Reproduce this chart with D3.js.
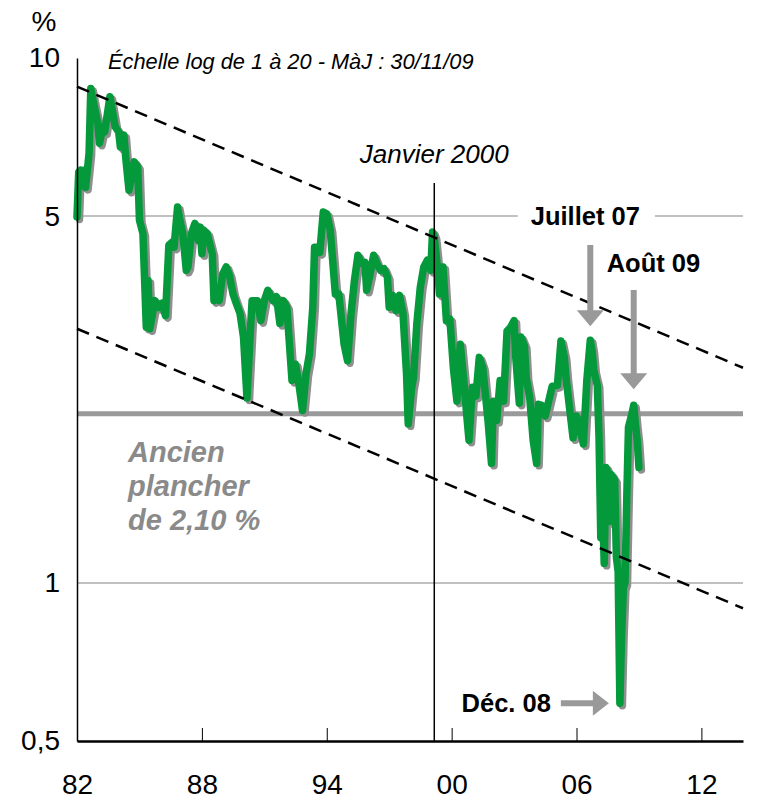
<!DOCTYPE html>
<html>
<head>
<meta charset="utf-8">
<script src="https://cdn.jsdelivr.net/npm/d3@7"></script>
<style>
  body { margin: 0; background: #fff; }
  svg { display: block; }
  text { font-family: Arial, "Liberation Sans", sans-serif; }
</style>
</head>
<body>
<svg id="chart" width="763" height="802"></svg>
<script>
// Monthly rate (%), Nov 1982 – Nov 2009
const months = [
  "1982-11","1982-12","1983-01","1983-02","1983-03","1983-04","1983-06","1983-07","1983-09","1983-11",
  "1983-12","1984-02","1984-03","1984-06","1984-07","1984-09","1984-11","1984-12","1985-01","1985-02",
  "1985-03","1985-05","1985-08","1985-10","1985-11","1986-01","1986-03","1986-04","1986-05","1986-08",
  "1986-10","1986-12","1987-02","1987-04","1987-06","1987-07","1987-09","1987-10","1987-12","1988-02",
  "1988-03","1988-05","1988-07","1988-09","1988-10","1988-11","1988-12","1989-02","1989-05","1989-06",
  "1989-08","1989-09","1989-11","1990-01","1990-03","1990-05","1990-07","1990-09","1990-11","1991-01",
  "1991-03","1991-04","1991-07","1991-09","1991-11","1992-01","1992-04","1992-06","1992-08","1992-10",
  "1992-12","1993-03","1993-05","1993-07","1993-09","1993-11","1994-01","1994-03","1994-04","1994-06",
  "1994-07","1994-09","1994-11","1995-01","1995-04","1995-06","1995-08","1995-09","1995-11","1996-01",
  "1996-03","1996-05","1996-07","1996-09","1996-10","1996-12","1997-02","1997-04","1997-06","1997-08",
  "1997-10","1997-11","1998-01","1998-03","1998-05","1998-07","1998-09","1998-10","1998-12","1999-01",
  "1999-03","1999-05","1999-07","1999-09","1999-11","1999-12","2000-01","2000-03","2000-04","2000-06",
  "2000-08","2000-10","2000-12","2001-02","2001-04","2001-06","2001-08","2001-09","2001-11","2002-01",
  "2002-03","2002-05","2002-08","2002-10","2002-11","2003-01","2003-03","2003-05","2003-07","2003-09",
  "2003-11","2003-12","2004-02","2004-03","2004-05","2004-06","2004-08","2004-10","2004-12","2005-01",
  "2005-03","2005-05","2005-07","2005-09","2005-12","2006-02","2006-04","2006-05","2006-07","2006-09",
  "2006-11","2006-12","2007-03","2007-05","2007-07","2007-08","2007-09","2007-11","2007-12","2008-01",
  "2008-02","2008-03","2008-04","2008-05","2008-06","2008-07","2008-09","2008-10","2008-11","2008-12",
  "2009-01","2009-02","2009-03","2009-04","2009-05","2009-07","2009-08","2009-09","2009-10","2009-11"
];
const rates = [
  4.98, 6.06, 6.11, 5.72, 6.11, 5.67, 6.59, 8.75, 8.08, 7.51,
  6.88, 7.40, 7.23, 8.44, 8.08, 7.40, 7.23, 6.77, 6.97, 7.13,
  6.53, 5.60, 6.34, 6.20, 4.91, 4.63, 3.07, 3.77, 3.05, 3.45,
  3.35, 3.41, 3.23, 4.40, 4.46, 4.36, 5.20, 4.98, 4.63, 3.94,
  4.00, 4.63, 4.84, 4.49, 4.76, 4.24, 4.70, 4.63, 4.24, 3.45,
  3.66, 3.45, 3.88, 4.00, 3.85, 3.55, 3.40, 3.26, 2.94, 2.25,
  3.02, 3.45, 3.45, 3.16, 3.45, 3.61, 3.45, 3.51, 3.12, 3.45,
  3.35, 2.43, 2.61, 2.39, 2.13, 2.50, 2.73, 3.35, 4.36, 4.36,
  4.26, 5.09, 5.05, 4.70, 3.55, 3.55, 3.07, 2.85, 2.65, 3.26,
  3.77, 4.21, 4.06, 4.08, 3.61, 3.88, 4.21, 4.06, 3.94, 3.97,
  3.82, 3.35, 3.53, 3.30, 3.53, 3.26, 2.50, 2.01, 2.36, 2.46,
  3.12, 3.66, 4.00, 4.12, 3.94, 4.66, 4.56, 3.94, 3.55, 4.00,
  3.16, 3.18, 2.57, 2.22, 2.85, 2.43, 2.04, 1.87, 2.36, 2.27,
  2.69, 2.57, 2.04, 1.69, 2.22, 2.04, 2.43, 2.22, 3.02, 3.07,
  3.16, 2.69, 2.20, 2.94, 2.83, 2.46, 2.26, 1.87, 1.69, 2.19,
  2.18, 2.08, 2.22, 2.37, 2.38, 2.89, 2.69, 2.46, 2.16, 1.89,
  2.08, 2.04, 1.84, 2.43, 2.90, 2.77, 2.54, 2.38, 1.90, 1.22,
  1.43, 1.09, 1.66, 1.63, 1.31, 1.61, 1.57, 1.12, 1.05, 0.59,
  0.80, 0.98, 1.00, 1.45, 1.98, 2.10, 2.18, 2.00, 1.87, 1.66
];

// Axes
const xDomain = ["1982-11", "2014-11"];
const xTickMonths = ["1982-11", "1988-11", "1994-11", "2000-11", "2006-11", "2012-11"];
const xTickLabels = ["82", "88", "94", "00", "06", "12"];
const yDomain = [0.5, 10];
const yTickValues = [0.5, 1, 5, 10];
const yTickLabels = ["0,5", "1", "5", "10"];
const gridValues = [1, 5];

// Reference levels and trend channel (log-linear)
const floorRate = 2.10;
const channelMonths = ["1982-11", "2014-11"];
const upperChannel = [8.82, 2.57];
const lowerChannel = [3.05, 0.895];
const markerMonth = "2000-01";

// Annotated months
const julyPeak = "2007-07";
const decLow = "2008-12";
const augPeak = "2009-08";

const parse = d3.timeParse("%Y-%m");
const svg = d3.select("#chart");
const plotLeft = 77, plotRight = 743, plotTop = 58, plotBottom = 741;

const x = d3.scaleTime().domain(xDomain.map(parse)).range([plotLeft, plotRight]);
const y = d3.scaleLog().domain(yDomain).range([plotBottom, plotTop]);

const series = months.map((m, i) => ({ date: parse(m), value: rates[i] }));
const valueAt = m => series.find(d => +d.date === +parse(m)).value;

// Horizontal gridlines
const grid = svg.append("g");
gridValues.forEach(v => {
  grid.append("line")
    .attr("x1", plotLeft).attr("x2", plotRight)
    .attr("y1", y(v)).attr("y2", y(v))
    .attr("stroke", "#ababab").attr("stroke-width", 1.5);
});

// Former floor at 2.10 %
svg.append("line")
  .attr("x1", plotLeft).attr("x2", plotRight)
  .attr("y1", y(floorRate)).attr("y2", y(floorRate))
  .attr("stroke", "#9a9a9a").attr("stroke-width", 5);

// Rate line with drop shadow
const line = d3.line().x(d => x(d.date)).y(d => y(d.value)).curve(d3.curveLinear);
svg.append("path").datum(series)
  .attr("d", line)
  .attr("transform", "translate(2.5,2.5)")
  .attr("fill", "none").attr("stroke", "#8f8f8f")
  .attr("stroke-width", 7.5).attr("stroke-linejoin", "round").attr("stroke-linecap", "round");
svg.append("path").datum(series)
  .attr("d", line)
  .attr("fill", "none").attr("stroke", "#04993a")
  .attr("stroke-width", 7.5).attr("stroke-linejoin", "round").attr("stroke-linecap", "round");

// Trend channel (dashed)
[upperChannel, lowerChannel].forEach(vals => {
  const pts = channelMonths.map((m, i) => ({ date: parse(m), value: vals[i] }));
  svg.append("path").datum(pts)
    .attr("d", line)
    .attr("fill", "none").attr("stroke", "#000")
    .attr("stroke-width", 2.5).attr("stroke-dasharray", "13,8");
});

// January 2000 marker
svg.append("line")
  .attr("x1", x(parse(markerMonth))).attr("x2", x(parse(markerMonth)))
  .attr("y1", 183).attr("y2", plotBottom)
  .attr("stroke", "#000").attr("stroke-width", 1.5);
svg.append("text")
  .attr("x", x(parse(markerMonth))).attr("y", 163)
  .attr("text-anchor", "middle")
  .attr("font-size", 26).attr("font-style", "italic")
  .text("Janvier 2000");

// Axes
const xAxis = d3.axisBottom(x)
  .tickValues(xTickMonths.map(parse))
  .tickFormat((d, i) => xTickLabels[i])
  .tickSizeInner(-13).tickSizeOuter(0).tickPadding(33);
const gx = svg.append("g").attr("transform", `translate(0,${plotBottom})`).call(xAxis);
gx.select(".domain").attr("stroke-width", 2.5);
gx.selectAll(".tick line").attr("stroke-width", 1);
gx.selectAll(".tick text").attr("font-size", 28).attr("fill", "#000");
gx.attr("font-family", null).attr("font-size", null);

const yAxis = d3.axisLeft(y)
  .tickValues(yTickValues)
  .tickFormat((d, i) => yTickLabels[i])
  .tickSize(0).tickPadding(17);
const gy = svg.append("g").attr("transform", `translate(${plotLeft},0)`).call(yAxis);
gy.select(".domain").attr("stroke-width", 1.5);
gy.selectAll(".tick text").attr("font-size", 28).attr("fill", "#000");
gy.attr("font-family", null).attr("font-size", null);

svg.append("text").attr("x", 44).attr("y", 31)
  .attr("text-anchor", "middle").attr("font-size", 28).text("%");

svg.append("text").attr("x", 108).attr("y", 69)
  .attr("font-size", 21.8).attr("font-style", "italic")
  .text("Échelle log de 1 à 20 - MàJ : 30/11/09");

// Former floor caption
const floorText = svg.append("text")
  .attr("x", 128).attr("y", 462)
  .attr("font-size", 29).attr("font-weight", "bold").attr("font-style", "italic")
  .attr("fill", "#8a8a8a");
["Ancien", "plancher", "de 2,10 %"].forEach((s, i) => {
  floorText.append("tspan").attr("x", 128).attr("dy", i === 0 ? 0 : 34).text(s);
});

// Arrows
const grey = "#999";
function downArrow(cx, yTop, yTip) {
  const hw = 13.5, hh = 16, sw = 3;
  svg.append("path")
    .attr("d", `M${cx - sw},${yTop}V${yTip - hh}H${cx - hw}L${cx},${yTip}L${cx + hw},${yTip - hh}H${cx + sw}V${yTop}Z`)
    .attr("fill", grey);
}
function rightArrow(xTail, xTip, cy) {
  const hw = 12.5, hl = 16, sw = 3;
  svg.append("path")
    .attr("d", `M${xTail},${cy - sw}H${xTip - hl}V${cy - hw}L${xTip},${cy}L${xTip - hl},${cy + hw}V${cy + sw}H${xTail}Z`)
    .attr("fill", grey);
}

// Juillet 07
const jx = x(parse(julyPeak));
const jLabel = svg.append("text")
  .attr("x", jx - 5).attr("y", 225)
  .attr("text-anchor", "middle").attr("font-size", 25.5).attr("font-weight", "bold")
  .text("Juillet 07");
const jb = jLabel.node().getBBox();
grid.append("rect")
  .attr("x", jb.x - 13).attr("y", y(5) - 3)
  .attr("width", jb.width + 28).attr("height", 6)
  .attr("fill", "#fff");
downArrow(jx, 245, y(valueAt(julyPeak)) - 14);

// Août 09
const ax = x(parse(augPeak));
svg.append("text")
  .attr("x", ax - 27).attr("y", 272)
  .attr("font-size", 25.5).attr("font-weight", "bold")
  .text("Août 09");
downArrow(ax, 290, y(valueAt(augPeak)) - 16);

// Déc. 08
const dx = x(parse(decLow));
const dy = y(valueAt(decLow));
rightArrow(dx - 59, dx - 11, dy);
svg.append("text")
  .attr("x", dx - 69).attr("y", dy + 9)
  .attr("text-anchor", "end").attr("font-size", 25.5).attr("font-weight", "bold")
  .text("Déc. 08");
</script>
</body>
</html>
